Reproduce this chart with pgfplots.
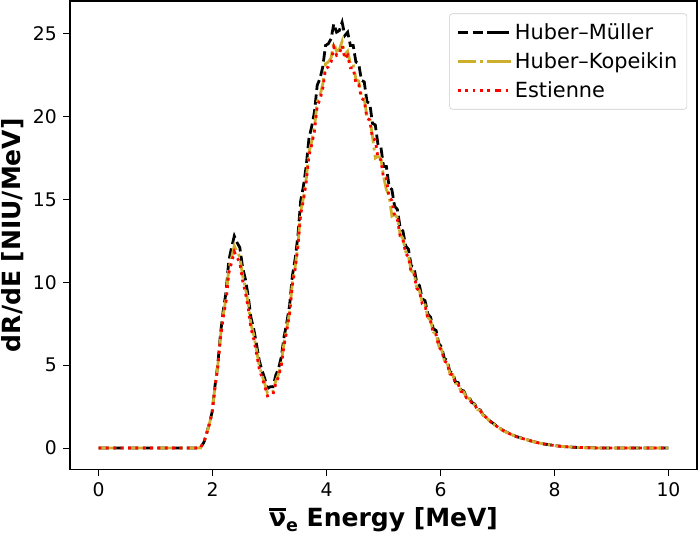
\documentclass[border=0pt]{standalone}
\usepackage{fontspec}
\setmainfont{DejaVu Sans}
\usepackage{pgfplots}
\usepackage{pgfplotstable}
\pgfplotsset{compat=1.18}
\definecolor{hkcol}{RGB}{205,175,45}
\definecolor{legframe}{RGB}{204,204,204}
\newcommand{\nubar}{\hbox{\vbox{\hrule height 1.8pt\kern 1.4pt\hbox{ν}}}}
\pgfplotstableread{
x hm hk es
0 0 0 0
0.5 0 0 0
1 0 0 0
1.5 0 0 0
1.79 0 0 0
1.8 0.1 0.1 0.1
1.849 0.35 0.35 0.35
1.897 0.9 0.89 0.88
1.946 1.5 1.48 1.47
1.994 2.2 2.18 2.15
2.043 3.75 3.7 3.65
2.091 5.0 4.92 4.85
2.140 6.9 6.75 6.65
2.188 8.3 8.05 7.9
2.237 9.4 9.05 8.85
2.285 11.3 10.85 10.55
2.334 12.1 11.5 11.2
2.382 12.8 12.2 11.85
2.431 12.4 11.85 11.5
2.479 12.1 11.55 11.2
2.528 10.9 10.4 10.1
2.576 10.2 9.7 9.4
2.625 9.2 8.75 8.5
2.673 7.9 7.5 7.25
2.722 7.2 6.85 6.6
2.770 6.3 5.95 5.75
2.819 5.3 5.0 4.8
2.867 4.7 4.4 4.25
2.916 4.2 3.9 3.75
2.964 3.6 3.3 3.15
3.013 3.7 3.38 3.2
3.061 3.7 3.42 3.25
3.110 4.4 4.05 3.9
3.158 4.8 4.45 4.3
3.207 5.5 5.15 5.0
3.255 6.7 6.35 6.2
3.304 7.6 7.25 7.1
3.352 8.6 8.2 8.1
3.401 10.4 9.95 9.85
3.449 11.4 10.9 10.8
3.498 12.8 12.25 12.15
3.546 14.9 14.25 14.1
3.595 15.8 15.1 14.95
3.643 17.0 16.2 16.05
3.692 18.7 17.85 17.65
3.740 19.4 18.5 18.3
3.789 20.3 19.35 19.15
3.837 21.9 20.9 20.65
3.886 22.3 21.3 21.05
3.934 23.0 21.95 21.7
3.983 24.3 23.2 22.9
4.031 24.4 23.3 23.0
4.080 24.7 23.55 23.3
4.128 25.6 24.45 24.2
4.177 25.1 23.95 23.7
4.225 25.2 24.05 23.8
4.274 25.7 24.55 24.3
4.322 24.9 23.75 23.5
4.371 25.1 23.95 23.7
4.419 24.3 23.2 22.95
4.468 24.3 23.2 22.95
4.516 23.3 22.25 22.0
4.565 23.2 22.15 21.95
4.613 22.2 21.25 21.1
4.662 22.1 21.1 21.0
4.710 20.9 20.0 19.9
4.759 20.8 19.9 19.8
4.807 19.6 18.8 18.7
4.856 19.5 17.5 18.6
4.904 18.3 17.6 17.5
4.953 18.2 17.5 17.4
5.001 17.0 16.4 16.3
5.050 17.0 15.6 16.3
5.098 15.8 15.25 15.15
5.147 15.6 14.0 14.95
5.195 14.6 14.1 14.0
5.244 14.4 13.9 13.8
5.292 13.3 12.9 12.8
5.341 13.1 12.65 12.6
5.389 12.2 11.85 11.75
5.438 12.0 11.6 11.55
5.486 11.0 10.7 10.6
5.535 10.9 10.55 10.5
5.583 10.0 9.7 9.65
5.632 9.8 9.5 9.45
5.680 9.0 8.75 8.7
5.729 8.9 8.65 8.6
5.777 8.1 7.9 7.85
5.826 7.9 7.7 7.65
5.874 7.2 7.0 6.95
5.923 7.1 6.9 6.85
5.971 6.3 6.15 6.1
6.020 6.1 5.95 5.9
6.068 5.4 5.28 5.25
6.117 5.3 5.18 5.15
6.165 4.6 4.5 4.47
6.214 4.55 4.45 4.42
6.262 4.0 3.92 3.9
6.311 3.95 3.87 3.85
6.359 3.5 3.44 3.42
6.408 3.45 3.39 3.37
6.456 3.1 3.05 3.03
6.505 3.05 3.0 2.98
6.553 2.75 2.71 2.7
6.602 2.65 2.62 2.6
6.650 2.35 2.32 2.31
6.699 2.3 2.27 2.26
6.747 2.0 1.98 1.97
6.796 1.9 1.88 1.87
6.844 1.7 1.69 1.68
6.941 1.45 1.43 1.43
7.038 1.2 1.19 1.19
7.135 1.0 0.99 0.99
7.232 0.85 0.84 0.84
7.329 0.7 0.69 0.69
7.426 0.6 0.59 0.59
7.523 0.5 0.5 0.5
7.620 0.4 0.4 0.4
7.717 0.32 0.32 0.32
7.814 0.25 0.25 0.25
7.911 0.2 0.2 0.2
8.008 0.15 0.15 0.15
8.105 0.11 0.11 0.11
8.202 0.08 0.08 0.08
8.396 0.04 0.04 0.04
8.590 0.02 0.02 0.02
8.784 0.01 0.01 0.01
9.269 0 0 0
10 0 0 0
}\spectra
\begin{document}
\begin{tikzpicture}
\begin{axis}[
  scale only axis,
  width=451pt, height=337pt,
  xmin=-0.5, xmax=10.5, ymin=-1.285, ymax=26.985,
  xtick={0,2,4,6,8,10}, ytick={0,5,10,15,20,25},
  tick align=outside, xtick pos=bottom, ytick pos=left,
  major tick length=5pt,
  every tick/.style={black, line width=0.8pt},
  axis line style={black, line width=0.8pt},
  /pgf/number format/assume math mode=true,
  ticklabel style={font=\fontsize{13.5}{16}\selectfont},
  xticklabel style={yshift=-1pt},
  yticklabel style={xshift=-1pt},
  xlabel={\nubar\raisebox{-3.5pt}{\fontsize{12.6}{14}\selectfont e}\ Energy [MeV]},
  ylabel={dR/dE [NIU/MeV]},
  xlabel style={font=\fontsize{18}{21}\selectfont\bfseries, at={(axis description cs:0.5,0)}, anchor=base, yshift=-41pt},
  ylabel style={font=\fontsize{18}{21}\selectfont\bfseries, at={(axis description cs:0,0.5)}, anchor=center, yshift=41pt},
  legend cell align=left,
  legend image code/.code={\draw[#1] (0pt,0pt) -- (29pt,0pt); \path (29pt,0pt) -- (38pt,0pt);},
  legend style={at={(1,1)}, anchor=north east, xshift=-7pt, yshift=-9pt,
    draw=legframe, rounded corners=2pt, fill=white, fill opacity=0.8, text opacity=1,
    font=\fontsize{15}{18}\selectfont, row sep=4pt, inner xsep=5pt, inner ysep=5pt},
]
\addplot[black, line width=2pt, dash pattern=on 7.4pt off 3.2pt] table[x=x, y=hm] {\spectra};
\addlegendentry{Huber–Müller}
\addplot[hkcol, line width=2pt, dash pattern=on 12.8pt off 3.2pt on 2pt off 3.2pt] table[x=x, y=hk] {\spectra};
\addlegendentry{Huber–Kopeikin}
\addplot[red, line width=2pt, dash pattern=on 2pt off 3.3pt] table[x=x, y=es] {\spectra};
\addlegendentry{Estienne}
\end{axis}
\pgfresetboundingbox
\path[use as bounding box] ([shift={(-50.4pt,-47pt)}]current axis.south west) rectangle ([shift={(2.2pt,0.7pt)}]current axis.north east);
\end{tikzpicture}
\end{document}
